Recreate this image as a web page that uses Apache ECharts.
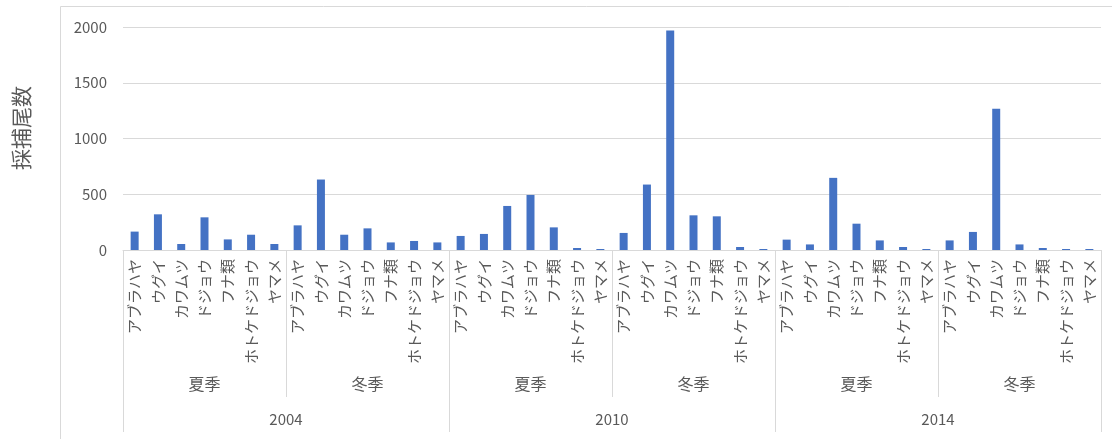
<!DOCTYPE html>
<html>
<head>
<meta charset="utf-8">
<script src="https://cdn.jsdelivr.net/npm/echarts@6/dist/echarts.min.js"></script>
<style>
  html, body { margin: 0; padding: 0; background: #fff; }
  #chart { width: 1112px; height: 439px; }
</style>
</head>
<body>
<div id="chart"></div>
<script>
const species = ['アブラハヤ', 'ウグイ', 'カワムツ', 'ドジョウ', 'フナ類', 'ホトケドジョウ', 'ヤマメ']
const seasons = ['夏季', '冬季']
const years = ['2004', '2010', '2014']

// 採捕尾数 per year / season, in species order
const v2004Summer = [165, 320, 54, 293, 95, 137, 54]
const v2004Winter = [221, 632, 137, 194, 68, 81, 68]
const v2010Summer = [126, 144, 395, 494, 203, 18, 9]
const v2010Winter = [153, 587, 1968, 311, 302, 27, 9]
const v2014Summer = [93, 50, 647, 236, 86, 27, 9]
const v2014Winter = [86, 162, 1267, 50, 18, 9, 9]

const yTicks = [0, 500, 1000, 1500, 2000]

const groups = [v2004Summer, v2004Winter, v2010Summer, v2010Winter, v2014Summer, v2014Winter]
const values = groups.flat()
const speciesCats = []
const seasonCats = []
years.forEach(y => seasons.forEach(s => {
  seasonCats.push(y + s)
  species.forEach(sp => speciesCats.push(y + s + sp))
}))

const textColor = '#595959'
const lineColor = '#D9D9D9'
const font = '"Noto Sans CJK JP", "Noto Sans", sans-serif'

const chart = echarts.init(document.getElementById('chart'))
chart.setOption({
  animation: false,
  textStyle: { fontFamily: font },
  grid: { left: 123, right: 11, top: 27, bottom: 189, containLabel: false },
  graphic: [
    {
      type: 'rect',
      shape: { x: 60.5, y: 6.5, width: 1060, height: 440 },
      style: { fill: 'none', stroke: lineColor, lineWidth: 1 },
      silent: true
    },
    {
      type: 'text',
      x: 21, y: 128,
      rotation: Math.PI / 2,
      style: {
        text: '採捕尾数', font: '21px ' + font, fill: textColor,
        align: 'center', verticalAlign: 'middle'
      }
    }
  ],
  xAxis: [
    {
      type: 'category',
      position: 'bottom',
      data: speciesCats,
      axisLine: { lineStyle: { color: lineColor } },
      axisTick: { show: false },
      axisLabel: {
        interval: 0, rotate: 90, margin: 9, fontSize: 15, color: textColor,
        formatter: (v, i) => species[i % species.length]
      }
    },
    {
      type: 'category',
      position: 'bottom',
      data: seasonCats,
      axisLine: { show: false },
      axisTick: { show: true, interval: 0, length: 147, lineStyle: { color: lineColor } },
      axisLabel: {
        interval: 0, margin: 126, fontSize: 16, color: textColor,
        formatter: (v, i) => seasons[i % seasons.length]
      }
    },
    {
      type: 'category',
      position: 'bottom',
      data: years,
      axisLine: { show: false },
      axisTick: { show: true, interval: 0, length: 182, lineStyle: { color: lineColor } },
      axisLabel: { interval: 0, margin: 162, fontSize: 15, color: textColor }
    }
  ],
  yAxis: {
    type: 'value',
    min: yTicks[0],
    max: yTicks[yTicks.length - 1],
    interval: 500,
    axisLine: { show: false },
    axisTick: { show: false },
    axisLabel: { fontSize: 15, color: textColor, margin: 16, formatter: v => String(v) },
    splitLine: { lineStyle: { color: lineColor } }
  },
  series: [{
    type: 'bar',
    xAxisIndex: 0,
    data: values,
    barWidth: 8,
    itemStyle: { color: '#4472C4' }
  }]
})
</script>
</body>
</html>
